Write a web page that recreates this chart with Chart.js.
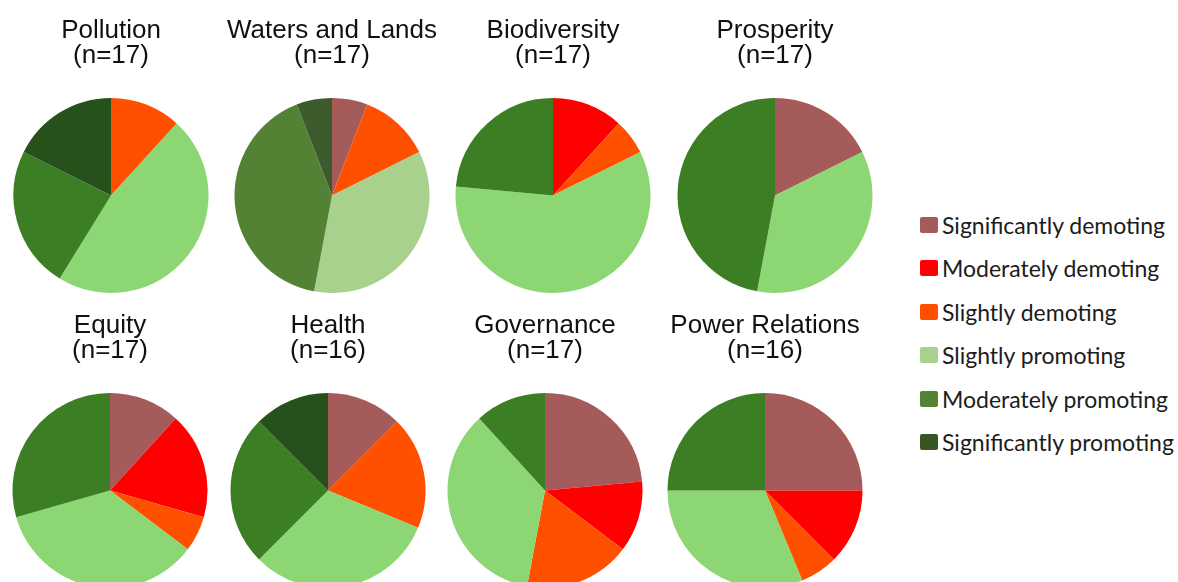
<!DOCTYPE html>
<html>
<head>
    <title>Impact ratings by dimension</title>
    <script src="https://cdn.jsdelivr.net/npm/chart.js"></script>
    <style>
        html, body {
            margin: 0;
            padding: 0;
            background: #fff;
            width: 1178px;
            height: 582px;
            overflow: hidden;
        }
        .pie {
            position: absolute;
        }
        .legend {
            position: absolute;
            left: 920px;
            top: 203px;
            margin: 0;
            padding: 0;
            list-style: none;
            font-family: Lato, "Open Sans", sans-serif;
            font-size: 23px;
            color: #1c1c1c;
        }
        .legend li {
            height: 43.5px;
            display: flex;
            align-items: center;
            white-space: nowrap;
        }
        .legend .swatch {
            display: inline-block;
            width: 18px;
            height: 16px;
            border-radius: 2px;
            margin-right: 4px;
        }
    </style>
</head>
<body>
    <!-- 8 pies + shared legend -->
    <div id="pies"></div>
    <ul class="legend" id="legend"></ul>

<script>
// rating categories, in drawing order (clockwise from 12 o'clock)
const categories = [
    'Significantly demoting',
    'Moderately demoting',
    'Slightly demoting',
    'Slightly promoting',
    'Moderately promoting',
    'Significantly promoting'
];

// number of cases per category
const pollution      = [0, 0, 2, 8, 4, 3];
const watersLands    = [1, 0, 2, 6, 7, 1];
const biodiversity   = [0, 2, 1, 10, 4, 0];
const prosperity     = [3, 0, 0, 6, 8, 0];
const equity         = [2, 3, 1, 6, 5, 0];
const health         = [2, 0, 3, 5, 4, 2];
const governance     = [4, 2, 3, 6, 2, 0];
const powerRelations = [4, 2, 1, 5, 4, 0];

const pieTitles = ['Pollution', 'Waters and Lands', 'Biodiversity', 'Prosperity',
                   'Equity', 'Health', 'Governance', 'Power Relations'];
const pieValues = [pollution, watersLands, biodiversity, prosperity,
                   equity, health, governance, powerRelations];

// colours
const pieColors    = ['#a65b5b', '#ff0000', '#ff5000', '#8cd674', '#3b7e23', '#27511a'];
const watersColors = ['#a65b5b', '#ff0000', '#ff5000', '#a9d18e', '#548235', '#3d5b2c'];
const legendColors = ['#a65b5b', '#ff0000', '#ff5000', '#a9d18e', '#548235', '#375623'];

// pie centres (x) per row, and row tops
const rowCenters = [[111, 332, 553, 775], [110, 328, 545, 765]];
const rowTops = [0, 295];

const CW = 230, CH = 293;

window.onload = () => {
    const wrap = document.getElementById('pies');

    pieTitles.forEach((title, i) => {
        const row = Math.floor(i / 4), col = i % 4;
        const canvas = document.createElement('canvas');
        canvas.className = 'pie';
        canvas.width = CW;
        canvas.height = CH;
        canvas.style.left = (rowCenters[row][col] - CW / 2) + 'px';
        canvas.style.top = rowTops[row] + 'px';
        wrap.appendChild(canvas);

        const data = pieValues[i];
        const n = data.reduce((a, b) => a + b, 0);

        new Chart(canvas.getContext('2d'), {
            type: 'pie',
            data: {
                labels: categories,
                datasets: [{
                    data: data,
                    backgroundColor: i === 1 ? watersColors : pieColors,
                    borderWidth: 0
                }]
            },
            options: {
                responsive: false,
                animation: false,
                layout: { padding: 0 },
                plugins: {
                    legend: { display: false },
                    tooltip: { enabled: false },
                    title: {
                        display: true,
                        text: [title, '(n=' + n + ')'],
                        color: '#111',
                        font: { family: '"Liberation Sans", Arial, sans-serif', size: 26, weight: 'normal', lineHeight: 0.98 },
                        padding: { top: 18, bottom: 29 }
                    }
                }
            }
        });
    });

    // shared legend
    const legend = document.getElementById('legend');
    categories.forEach((c, i) => {
        const li = document.createElement('li');
        li.innerHTML = '<span class="swatch" style="background:' + legendColors[i] + '"></span>' + c;
        legend.appendChild(li);
    });
};
</script>
</body>
</html>
